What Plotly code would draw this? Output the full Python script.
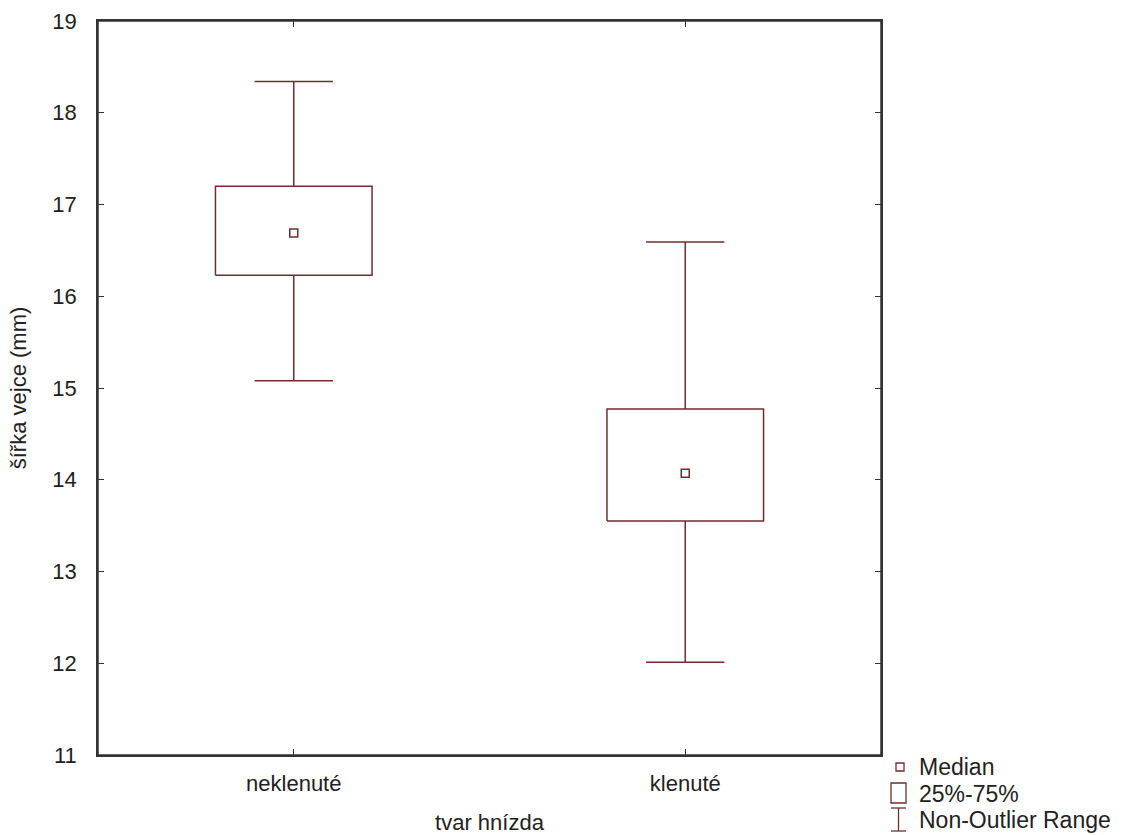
import plotly.graph_objects as go

# Egg width (mm) by nest shape: box summary per group
categories = ["neklenuté", "klenuté"]
whisker_low = [15.08, 12.01]
q1 = [16.23, 13.55]
median = [16.69, 14.07]
q3 = [17.20, 14.77]
whisker_high = [18.34, 16.59]

y_ticks = [11, 12, 13, 14, 15, 16, 17, 18, 19]

COLOR = "#722e2e"
AXIS = "#333333"
TEXT = "#222222"
FONT = "Liberation Sans, Arial, sans-serif"

BOX_HALF = 0.2
CAP_HALF = 0.1

positions = list(range(len(categories)))

# Build box outlines and whiskers as line paths in data coordinates
bx, by = [], []
wx, wy = [], []
for p, lo, a, b, hi in zip(positions, whisker_low, q1, q3, whisker_high):
    bx += [p - BOX_HALF, p + BOX_HALF, p + BOX_HALF, p - BOX_HALF, p - BOX_HALF, None]
    by += [a, a, b, b, a, None]
    wx += [p, p, None, p - CAP_HALF, p + CAP_HALF, None,
           p, p, None, p - CAP_HALF, p + CAP_HALF, None]
    wy += [b, hi, None, hi, hi, None,
           a, lo, None, lo, lo, None]

fig = go.Figure()
fig.add_trace(go.Scatter(x=wx, y=wy, mode="lines", line=dict(color=COLOR, width=1.5),
                         hoverinfo="skip", showlegend=False))
fig.add_trace(go.Scatter(x=bx, y=by, mode="lines", line=dict(color=COLOR, width=1.5),
                         hoverinfo="skip", showlegend=False))
fig.add_trace(go.Scatter(x=positions, y=median, mode="markers",
                         marker=dict(symbol="square-open", size=8, color=COLOR,
                                     line=dict(width=1.5, color=COLOR)),
                         showlegend=False))

# Plot frame and key in the lower-right corner (paper coordinates)
L, R, T, B = 98, 881, 21, 755


def px_x(x):
    return (x - L) / (R - L)


def px_y(y):
    return (B - y) / (B - T)


shapes = [
    dict(type="rect", xref="paper", yref="paper", x0=0, x1=1, y0=0, y1=1,
         line=dict(color=AXIS, width=1.5)),
    dict(type="rect", xref="paper", yref="paper",
         x0=px_x(896), x1=px_x(904), y0=px_y(771), y1=px_y(763),
         line=dict(color=COLOR, width=1.3)),
    dict(type="rect", xref="paper", yref="paper",
         x0=px_x(891), x1=px_x(906), y0=px_y(803), y1=px_y(783),
         line=dict(color=COLOR, width=1.3)),
    dict(type="line", xref="paper", yref="paper",
         x0=px_x(898.5), x1=px_x(898.5), y0=px_y(831), y1=px_y(808),
         line=dict(color=COLOR, width=1.3)),
    dict(type="line", xref="paper", yref="paper",
         x0=px_x(891), x1=px_x(906), y0=px_y(808), y1=px_y(808),
         line=dict(color=COLOR, width=1.3)),
    dict(type="line", xref="paper", yref="paper",
         x0=px_x(891), x1=px_x(906), y0=px_y(831), y1=px_y(831),
         line=dict(color=COLOR, width=1.3)),
]
legend_items = [("Median", 767), ("25%-75%", 794), ("Non-Outlier Range", 820)]
annotations = [
    dict(xref="paper", yref="paper", x=px_x(917), y=px_y(yc), text=t,
         showarrow=False, xanchor="left", yanchor="middle",
         font=dict(family=FONT, size=23, color=TEXT))
    for t, yc in legend_items
]

fig.update_layout(
    width=1123, height=835,
    margin=dict(l=L, r=1123 - R, t=T, b=835 - B),
    paper_bgcolor="white", plot_bgcolor="white",
    font=dict(family=FONT, size=22, color=TEXT),
    shapes=shapes, annotations=annotations,
    showlegend=False,
)
fig.update_xaxes(
    range=[-0.5, 1.5], tickmode="array", tickvals=positions, ticktext=categories,
    ticks="inside", ticklen=6, tickcolor=AXIS, tickwidth=1,
    showline=True, linecolor=AXIS, linewidth=1.5, mirror="allticks",
    showgrid=False, zeroline=False, tickfont=dict(size=22), automargin=False,
    title=dict(text="tvar hnízda", font=dict(size=22), standoff=19),
    ticklabelstandoff=8,
)
fig.update_yaxes(
    range=[11, 19], tickmode="array", tickvals=y_ticks,
    ticks="inside", ticklen=6, tickcolor=AXIS, tickwidth=1,
    showline=True, linecolor=AXIS, linewidth=1.5, mirror="allticks",
    showgrid=False, zeroline=False, tickfont=dict(size=22), automargin=False,
    title=dict(text="šířka vejce (mm)", font=dict(size=22), standoff=20),
    ticklabelstandoff=15,
)

fig.write_html("out.html")
